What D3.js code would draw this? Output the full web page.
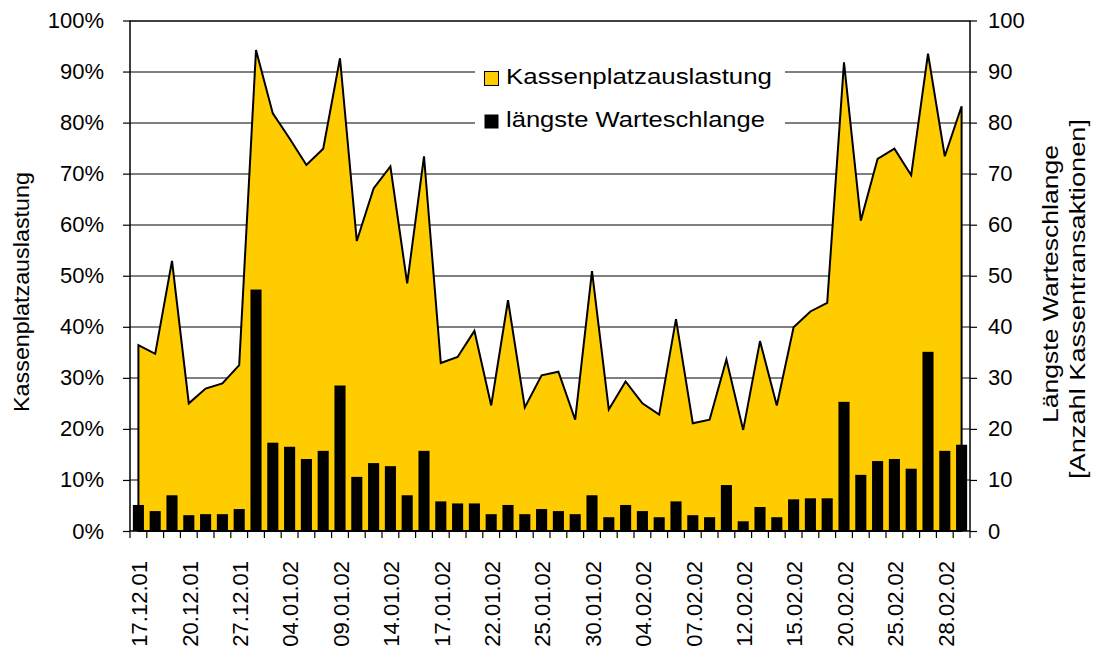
<!DOCTYPE html>
<html>
<head>
<meta charset="utf-8">
<script src="https://cdn.jsdelivr.net/npm/d3@7"></script>
<style>
  body { margin: 0; background: #fff; }
  svg { display: block; }
  text { font-family: "Liberation Sans", Arial, sans-serif; fill: #000; }
</style>
</head>
<body>
<svg id="chart" width="1097" height="653"></svg>
<script>
// business days, one per category
var dates = ["17.12.01", "18.12.01", "19.12.01", "20.12.01", "21.12.01", "24.12.01",
             "27.12.01", "28.12.01", "03.01.02", "04.01.02", "07.01.02", "08.01.02",
             "09.01.02", "10.01.02", "11.01.02", "14.01.02", "15.01.02", "16.01.02",
             "17.01.02", "18.01.02", "21.01.02", "22.01.02", "23.01.02", "24.01.02",
             "25.01.02", "28.01.02", "29.01.02", "30.01.02", "31.01.02", "01.02.02",
             "04.02.02", "05.02.02", "06.02.02", "07.02.02", "08.02.02", "11.02.02",
             "12.02.02", "13.02.02", "14.02.02", "15.02.02", "18.02.02", "19.02.02",
             "20.02.02", "21.02.02", "22.02.02", "25.02.02", "26.02.02", "27.02.02",
             "28.02.02", "01.03.02"];

// Kassenplatzauslastung in %
var auslastung = [36.4, 34.7, 52.9, 25.0, 27.9, 28.9, 32.5, 94.2, 81.8, 76.9,
                  71.7, 74.9, 92.6, 56.8, 67.1, 71.4, 48.5, 73.4, 32.9, 34.1,
                  39.2, 24.6, 45.2, 24.2, 30.5, 31.2, 21.8, 50.9, 23.8, 29.3,
                  25.0, 22.8, 41.5, 21.1, 21.8, 33.6, 19.8, 37.2, 24.6, 39.9,
                  43.0, 44.7, 91.8, 60.8, 72.9, 74.9, 69.7, 93.5, 73.4, 83.2];

// längste Warteschlange (Anzahl Kassentransaktionen)
var warteschlange = [5.1, 3.9, 7.0, 3.1, 3.3, 3.3, 4.3, 47.3, 17.3, 16.5,
                     14.1, 15.7, 28.5, 10.6, 13.3, 12.7, 7.0, 15.7, 5.8, 5.4,
                     5.4, 3.3, 5.1, 3.3, 4.3, 3.9, 3.3, 7.0, 2.7, 5.1,
                     3.9, 2.7, 5.8, 3.1, 2.7, 9.0, 1.9, 4.7, 2.7, 6.2,
                     6.4, 6.4, 25.3, 11.0, 13.7, 14.1, 12.2, 35.1, 15.7, 16.9];

var leftTicks = [0, 10, 20, 30, 40, 50, 60, 70, 80, 90, 100];
var rightTicks = [0, 10, 20, 30, 40, 50, 60, 70, 80, 90, 100];
var labelEvery = 3;

var seriesNames = ["Kassenplatzauslastung", "längste Warteschlange"];
var leftTitle = "Kassenplatzauslastung";
var rightTitle = ["Längste Warteschlange", "[Anzahl Kassentransaktionen]"];

var margin = {left: 130, right: 127, top: 20.5, bottom: 122},
    width = 1097 - margin.left - margin.right,
    height = 653 - margin.top - margin.bottom,
    yellow = "#ffcc00";

var svg = d3.select("#chart");
var g = svg.append("g")
    .attr("transform", "translate(" + margin.left + "," + margin.top + ")");

var rows = dates.map(function(d, i) {
    return {date: d, util: auslastung[i], queue: warteschlange[i]};
});

var xBand = d3.scaleBand()
        .domain(dates)
        .range([0, width])
        .paddingInner(0.34)
        .paddingOuter(0.17),
    xPoint = d3.scalePoint()
        .domain(dates)
        .range([0, width])
        .padding(0.5),
    yLeft = d3.scaleLinear().domain([0, 100]).range([height, 0]),
    yRight = d3.scaleLinear().domain([0, 100]).range([height, 0]);

// gridlines (behind the area)
g.append("g").attr("class", "grid")
    .selectAll("line")
    .data(leftTicks.slice(1))
    .enter().append("line")
    .attr("x1", 0).attr("x2", width)
    .attr("y1", function(d) { return Math.round(yLeft(d)) + 0.5; })
    .attr("y2", function(d) { return Math.round(yLeft(d)) + 0.5; })
    .attr("stroke", "#000")
    .attr("stroke-width", 1);

// area
var area = d3.area()
    .x(function(d) { return xPoint(d.date); })
    .y0(yLeft(0))
    .y1(function(d) { return yLeft(d.util); });

g.append("path")
    .datum(rows)
    .attr("d", area)
    .attr("fill", yellow)
    .attr("stroke", "#000")
    .attr("stroke-width", 2)
    .attr("stroke-linejoin", "miter");

// bars on the right axis
g.selectAll(".bar")
    .data(rows)
    .enter().append("rect")
    .attr("class", "bar")
    .attr("x", function(d) { return xBand(d.date); })
    .attr("width", xBand.bandwidth())
    .attr("y", function(d) { return yRight(d.queue); })
    .attr("height", function(d) { return yRight(0) - yRight(d.queue); })
    .attr("fill", "#000");

// axes
var leftAxis = d3.axisLeft(yLeft)
    .tickValues(leftTicks)
    .tickSize(7)
    .tickPadding(19)
    .tickFormat(function(d) { return d + "%"; });
var rightAxis = d3.axisRight(yRight)
    .tickValues(rightTicks)
    .tickSize(7)
    .tickPadding(11)
    .tickFormat(function(d) { return d; });

var gl = g.append("g").attr("class", "axis").call(leftAxis);
var gr = g.append("g").attr("class", "axis")
    .attr("transform", "translate(" + width + ",0)")
    .call(rightAxis);

[gl, gr].forEach(function(ax) {
    ax.select(".domain").remove();
    ax.selectAll("line").attr("stroke", "#000").attr("stroke-width", 1.2);
    ax.selectAll("text")
        .style("font-size", "22px")
        .attr("fill", "#000");
});

g.append("line").attr("x1", 0).attr("x2", 0).attr("y1", 0).attr("y2", height)
    .attr("stroke", "#000").attr("stroke-width", 1.5);
g.append("line").attr("x1", width).attr("x2", width).attr("y1", 0).attr("y2", height)
    .attr("stroke", "#000").attr("stroke-width", 1.5);
g.append("line").attr("x1", 0).attr("x2", width).attr("y1", 0.5).attr("y2", 0.5)
    .attr("stroke", "#000").attr("stroke-width", 1.2);
g.append("line").attr("x1", 0).attr("x2", width).attr("y1", height).attr("y2", height)
    .attr("stroke", "#000").attr("stroke-width", 1.5);

// x axis: ticks at category borders, labels every 3rd day
var step = xBand.step();
g.append("g").attr("class", "xticks")
    .selectAll("line")
    .data(d3.range(dates.length + 1))
    .enter().append("line")
    .attr("x1", function(d) { return d * step; })
    .attr("x2", function(d) { return d * step; })
    .attr("y1", height)
    .attr("y2", height + 7)
    .attr("stroke", "#000")
    .attr("stroke-width", 1.2);

g.append("g").attr("class", "xlabels")
    .selectAll("text")
    .data(dates.filter(function(d, i) { return i % labelEvery === 0; }))
    .enter().append("text")
    .attr("transform", function(d) {
        return "translate(" + (xPoint(d) + 1) + "," + (height + 30) + ") rotate(-90)";
    })
    .attr("text-anchor", "end")
    .attr("dy", "0.35em")
    .style("font-size", "22px")
    .text(function(d) { return d; });

// axis titles
svg.append("text")
    .attr("transform", "translate(29,292) rotate(-90)")
    .attr("text-anchor", "middle")
    .attr("textLength", 240)
    .attr("lengthAdjust", "spacingAndGlyphs")
    .style("font-size", "22px")
    .text(leftTitle);

svg.append("text")
    .attr("transform", "translate(1058,284) rotate(-90)")
    .attr("text-anchor", "middle")
    .attr("textLength", 278)
    .attr("lengthAdjust", "spacingAndGlyphs")
    .style("font-size", "22px")
    .text(rightTitle[0]);

svg.append("text")
    .attr("transform", "translate(1085,299) rotate(-90)")
    .attr("text-anchor", "middle")
    .attr("textLength", 360)
    .attr("lengthAdjust", "spacingAndGlyphs")
    .style("font-size", "22px")
    .text(rightTitle[1]);

// legend
var legend = svg.append("g").attr("class", "legend");
legend.append("rect")
    .attr("x", 475).attr("y", 56)
    .attr("width", 310).attr("height", 84)
    .attr("fill", "#fff");

var legendItems = legend.selectAll(".item")
    .data([{name: seriesNames[0], fill: yellow, stroke: "#000", y: 71},
           {name: seriesNames[1], fill: "#000", stroke: "none", y: 114}])
    .enter().append("g")
    .attr("class", "item")
    .attr("transform", function(d) { return "translate(484," + d.y + ")"; });

legendItems.append("rect")
    .attr("x", 0.5).attr("y", 0.5)
    .attr("width", 14).attr("height", 14)
    .attr("fill", function(d) { return d.fill; })
    .attr("stroke", function(d) { return d.stroke; })
    .attr("stroke-width", 1);

legendItems.append("text")
    .attr("x", 22)
    .attr("y", 13)
    .attr("textLength", function(d, i) { return i === 0 ? 266 : 259; })
    .attr("lengthAdjust", "spacingAndGlyphs")
    .style("font-size", "22px")
    .text(function(d) { return d.name; });
</script>
</body>
</html>
